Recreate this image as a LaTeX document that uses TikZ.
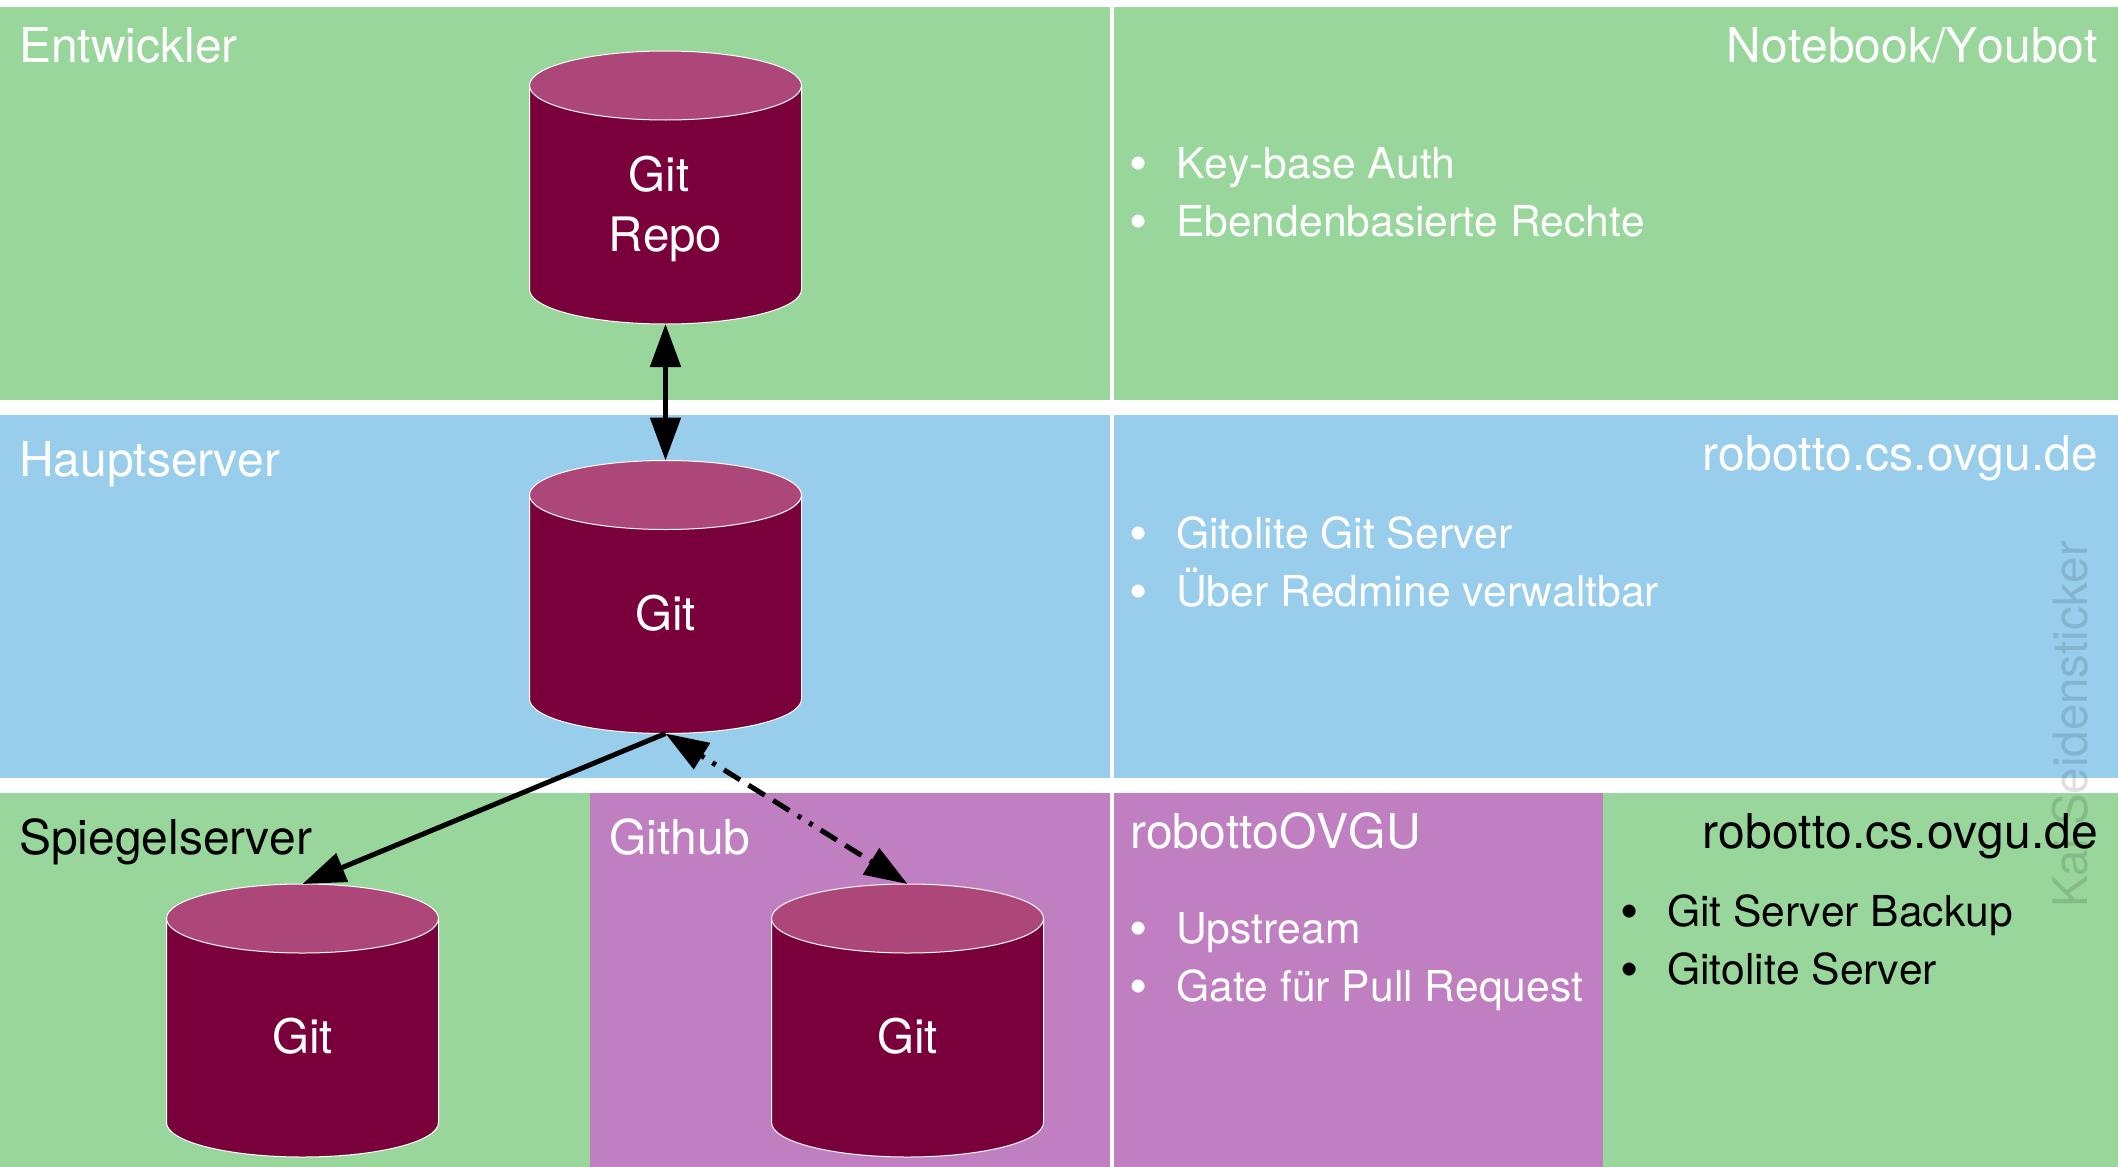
\documentclass[tikz,border=0pt]{standalone}
\usepackage{fontspec}
\setmainfont[Kerning=Off]{TeX Gyre Heros}
\usetikzlibrary{arrows.meta}
\definecolor{greenbg}{HTML}{98D69B}
\definecolor{bluebg}{HTML}{98CDEB}
\definecolor{purplebg}{HTML}{C07FC0}
\definecolor{cylbody}{HTML}{7A003C}
\definecolor{cyltop}{HTML}{AD4679}
\tikzset{
  x=1pt,y=-1pt,
  cylpart/.style={draw=white,line width=1pt},
  cyltext/.style={text=white,font=\fontsize{47.5}{60.5}\selectfont,align=center,inner sep=0pt},
  title/.style={font=\fontsize{48}{57}\selectfont,inner sep=0pt,anchor=base west},
  titler/.style={font=\fontsize{48}{57}\selectfont,inner sep=0pt,anchor=base east},
  item/.style={font=\fontsize{42.6}{58}\selectfont,inner sep=0pt,anchor=base west},
  bullet/.style={font=\fontsize{52}{58}\selectfont,inner sep=0pt,anchor=base,yshift=-3.5pt},
  link/.style={line width=5pt,-{Triangle[length=43pt,width=30pt]}},
  duplex/.style={line width=5pt,{Triangle[length=43pt,width=30pt]}-{Triangle[length=43pt,width=30pt]}},
  dashdots/.style={dash pattern=on 4pt off 9.5pt on 4pt off 9.5pt on 19pt off 10pt on 19pt off 10pt on 19pt off 10pt},
}
% #1 name, #2 centre x, #3 top y, #4 text y, #5 text
\newcommand\gitdb[5]{%
  \fill[cylbody] (#2-136,#3+34.5) -- (#2-136,#3+238.5)
     arc[start angle=180,end angle=360,x radius=136pt,y radius=34.5pt]
     -- (#2+136,#3+34.5) -- cycle;
  \draw[cylpart] (#2-136,#3+34.5) -- (#2-136,#3+238.5)
     arc[start angle=180,end angle=360,x radius=136pt,y radius=34.5pt]
     -- (#2+136,#3+34.5);
  \draw[cylpart,fill=cyltop] (#2,#3+34.5) ellipse [x radius=136pt,y radius=34.5pt];
  \coordinate (#1-top) at (#2,#3);
  \coordinate (#1-bot) at (#2,#3+273);
  \node[cyltext] (#1) at (#2,#4) {#5};
}
\begin{document}
\begin{tikzpicture}
\useasboundingbox (0,0) rectangle (2118,1167);
\fill[white] (0,0) rectangle (2118,1167);
\fill[greenbg] (0,7) rectangle (1110,400);
\fill[greenbg] (1114,7) rectangle (2118,400);
\fill[bluebg] (0,415) rectangle (1110,778);
\fill[bluebg] (1114,415) rectangle (2118,778);
\fill[greenbg] (0,793) rectangle (590,1167);
\fill[purplebg] (590,793) rectangle (1110,1167);
\fill[purplebg] (1114,793) rectangle (1603,1167);
\fill[greenbg] (1603,793) rectangle (2118,1167);

\node[rotate=90,anchor=base west,inner sep=0pt,font=\fontsize{47.5}{57}\selectfont,text=black,opacity=0.12] (mark) at (2087,908) {Kai Seidensticker};

\gitdb{repo}{665.5}{51}{209}{Git\rule{13pt}{0pt}\\Repo}
\gitdb{main}{665.5}{460.5}{613.5}{Git}
\gitdb{mirror}{302.5}{884}{1036}{Git}
\gitdb{hub}{907.5}{884}{1036}{Git}

\draw[duplex] (repo-bot) -- (main-top);
\draw[link] (main-bot) -- (mirror-top);
\draw[duplex,dashdots] (main-bot) -- (hub-top);

\node[title,text=white] (t1) at (19,62) {Entwickler};
\node[title,text=white] (t2) at (19,476) {Hauptserver};
\node[title,text=black] (t3) at (19,854) {Spiegelserver};
\node[title,text=white] (t4) at (609,854) {Github};
\node[title,text=white] (t5) at (1130,848) {robottoOVGU};
\node[titler,text=white] (r1) at (2098,62) {Notebook/Youbot};
\node[titler,text=white] (r2) at (2098,470) {robotto.cs.ovgu.de};
\node[titler,text=black] (r3) at (2098,848) {robotto.cs.ovgu.de};

\node[bullet,text=white] (b1) at (1139,178) {•};
\node[item,text=white] (i1) at (1176,178) {Key-base Auth};
\node[bullet,text=white] (b2) at (1139,236) {•};
\node[item,text=white] (i2) at (1176,236) {Ebendenbasierte Rechte};
\node[bullet,text=white] (b3) at (1139,548) {•};
\node[item,text=white] (i3) at (1176,548) {Gitolite Git Server};
\node[bullet,text=white] (b4) at (1139,606) {•};
\node[item,text=white] (i4) at (1176,606) {Über Redmine verwaltbar};
\node[bullet,text=white] (b5) at (1139,943) {•};
\node[item,text=white] (i5) at (1176,943) {Upstream};
\node[bullet,text=white] (b6) at (1139,1001) {•};
\node[item,text=white] (i6) at (1176,1001) {Gate für Pull Request};
\node[bullet,text=black] (b7) at (1630,926) {•};
\node[item,text=black] (i7) at (1667,926) {Git Server Backup};
\node[bullet,text=black] (b8) at (1630,984) {•};
\node[item,text=black] (i8) at (1667,984) {Gitolite Server};
\end{tikzpicture}
\end{document}
